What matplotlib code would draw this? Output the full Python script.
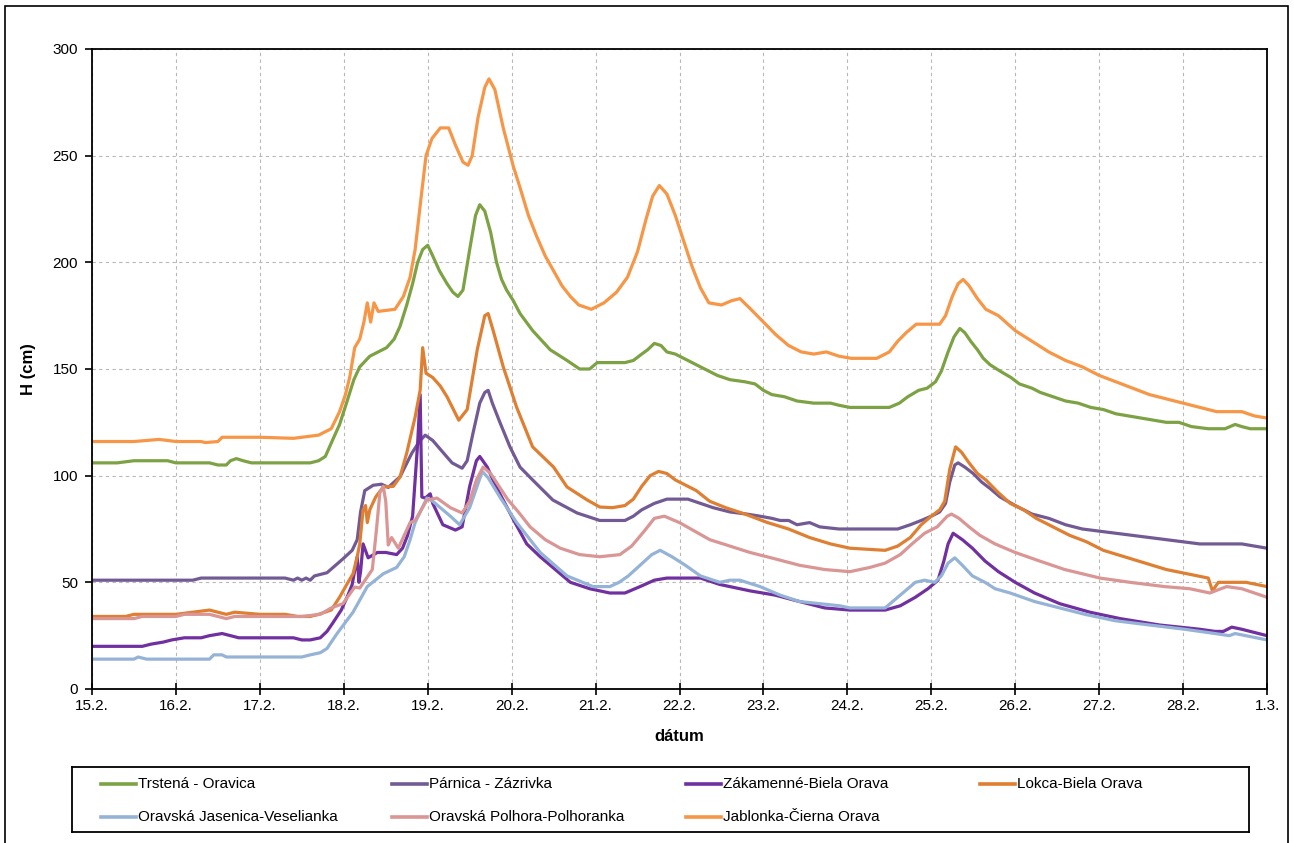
import matplotlib
matplotlib.use('Agg')
import matplotlib.pyplot as plt
from matplotlib.patches import Rectangle

plt.rcParams.update({'font.family': ['Liberation Sans', 'DejaVu Sans'], 'font.size': 11})

# days since 15.2.
day_labels = ['15.2.', '16.2.', '17.2.', '18.2.', '19.2.', '20.2.', '21.2.', '22.2.',
              '23.2.', '24.2.', '25.2.', '26.2.', '27.2.', '28.2.', '1.3.']

t_trstena = [0, 0.3, 0.5, 0.9, 1.0, 1.4, 1.5, 1.6, 1.65, 1.72, 1.8, 1.9, 2.6, 2.7, 2.78, 2.87, 2.95,
             3.04, 3.12, 3.19, 3.31, 3.51, 3.6, 3.67, 3.75, 3.82, 3.88, 3.94, 4.0, 4.06, 4.14, 4.23,
             4.3, 4.36, 4.42, 4.5, 4.57, 4.62, 4.68, 4.75, 4.82, 4.88, 4.94, 5.02, 5.1, 5.25, 5.46,
             5.66, 5.81, 5.93, 6.02, 6.1, 6.35, 6.45, 6.55, 6.62, 6.7, 6.78, 6.85, 6.95, 7.05, 7.15,
             7.3, 7.45, 7.6, 7.78, 7.9, 8.0, 8.1, 8.25, 8.4, 8.6, 8.8, 8.9, 9.03, 9.5, 9.62, 9.72,
             9.85, 9.95, 10.05, 10.12, 10.2, 10.27, 10.34, 10.4, 10.47, 10.55, 10.62, 10.7, 10.82,
             10.95, 11.05, 11.2, 11.3, 11.45, 11.6, 11.75, 11.9, 12.05, 12.2, 12.35, 12.5, 12.65,
             12.8, 12.95, 13.1, 13.3, 13.5, 13.62, 13.7, 13.8, 14.0]
h_trstena = [106, 106, 107, 107, 106, 106, 105, 105, 107, 108, 107, 106, 106, 107, 109, 117, 124,
             135, 145, 151, 156, 160, 164, 170, 180, 190, 200, 206, 208, 203, 196, 190,
             186, 184, 187, 206, 222, 227, 224, 214, 200, 192, 187, 182, 176, 168, 159,
             154, 150, 150, 153, 153, 153, 154, 157, 159, 162, 161, 158, 157, 155, 153,
             150, 147, 145, 144, 143, 140, 138, 137, 135, 134, 134, 133, 132, 132, 134, 137,
             140, 141, 144, 149, 158, 165, 169, 167, 163, 159, 155, 152, 149,
             146, 143, 141, 139, 137, 135, 134, 132, 131, 129, 128, 127, 126,
             125, 125, 123, 122, 122, 124, 123, 122, 122]

t_parnica = [0, 1.2, 1.3, 2.3, 2.4, 2.45, 2.5, 2.55, 2.6, 2.65, 2.8, 2.99, 3.1, 3.16, 3.2, 3.25,
             3.35, 3.45, 3.53, 3.67, 3.81, 3.9, 3.97, 4.06, 4.18, 4.29, 4.41, 4.47, 4.54, 4.62,
             4.68, 4.72, 4.77, 4.86, 4.98, 5.1, 5.25, 5.49, 5.78, 6.05, 6.35, 6.45, 6.55, 6.7,
             6.85, 7.1, 7.25, 7.4, 7.6, 7.8, 7.96, 8.1, 8.2, 8.3, 8.4, 8.55, 8.67, 8.9, 9.6, 9.75,
             9.88, 10.0, 10.1, 10.17, 10.22, 10.28, 10.32, 10.4, 10.5, 10.6, 10.7, 10.82, 11.0,
             11.2, 11.4, 11.6, 11.8, 12.0, 12.2, 12.4, 12.6, 12.8, 13.0, 13.2, 13.7, 14.0]
h_parnica = [51, 51, 52, 52, 51, 52, 51, 52, 51, 53, 54.5, 61, 65, 70, 83, 93,
             95.5, 96, 94.5, 99.5, 110.5, 116, 119, 116.5, 111, 106, 103.5, 107, 120, 134,
             139, 140, 134, 125, 113.5, 104, 98, 88.6, 82.5, 79, 79, 81, 84, 87,
             89, 89, 87, 85, 83, 82, 81, 80, 79, 79, 77, 78, 76, 75, 75, 77,
             79, 81, 83, 87, 97, 105, 106, 104, 101, 97, 94, 90, 86,
             82, 80, 77, 75, 74, 73, 72, 71, 70, 69, 68, 68, 66]

t_zakamenne = [0, 0.6, 0.7, 0.85, 0.95, 1.1, 1.3, 1.4, 1.55, 1.65, 1.75, 2.0, 2.4, 2.5, 2.6, 2.72,
               2.8, 2.87, 2.97, 3.05, 3.1, 3.16, 3.18, 3.2, 3.23, 3.29, 3.4, 3.5, 3.63, 3.7, 3.76,
               3.82, 3.88, 3.91, 3.93, 3.97, 4.03, 4.06, 4.18, 4.33, 4.41, 4.5, 4.58, 4.62, 4.71,
               4.8, 4.92, 5.04, 5.18, 5.34, 5.52, 5.7, 5.93, 6.17, 6.35, 6.53, 6.7, 6.85, 7.25,
               7.48, 7.84, 8.14, 8.43, 8.73, 9.03, 9.45, 9.63, 9.81, 9.96, 10.08, 10.15, 10.2,
               10.26, 10.37, 10.49, 10.64, 10.8, 11.0, 11.23, 11.53, 11.89, 12.25, 12.72, 13.2,
               13.38, 13.48, 13.58, 13.7, 14.0]
h_zakamenne = [20, 20, 21, 22, 23, 24, 24, 25, 26, 25, 24, 24, 24, 23, 23, 24,
               27, 31, 37, 44, 49, 62, 50, 55, 68, 61.5, 64, 64, 63, 66, 72,
               81, 115, 138, 90, 89.5, 91.5, 87, 77, 74.5, 76, 95, 107, 109, 104,
               96, 87, 78, 68, 62, 56, 50, 47, 45, 45, 48, 51, 52, 52,
               49, 46, 44, 41, 38, 37, 37, 39, 43, 47, 51, 60, 68,
               73, 70, 66, 60, 55, 50, 45, 40, 36, 33, 30, 28,
               27, 27, 29, 28, 25]

t_lokca = [0, 0.4, 0.5, 1.0, 1.2, 1.4, 1.5, 1.6, 1.7, 2.0, 2.3, 2.45, 2.6, 2.7, 2.85, 2.95, 3.05,
           3.11, 3.16, 3.19, 3.23, 3.26, 3.28, 3.31, 3.38, 3.47, 3.59, 3.67, 3.75, 3.85, 3.91, 3.94,
           3.98, 4.06, 4.15, 4.23, 4.37, 4.47, 4.59, 4.68, 4.72, 4.78, 4.9, 5.06, 5.25, 5.5, 5.66,
           5.9, 6.05, 6.2, 6.35, 6.45, 6.55, 6.65, 6.75, 6.85, 6.95, 7.05, 7.2, 7.36, 7.55, 7.78,
           8.05, 8.3, 8.55, 8.8, 9.03, 9.45, 9.6, 9.75, 9.88, 10.0, 10.1, 10.16, 10.22, 10.29,
           10.36, 10.45, 10.55, 10.65, 10.8, 10.94, 11.1, 11.25, 11.45, 11.65, 11.85, 12.05, 12.3,
           12.55, 12.8, 13.05, 13.3, 13.35, 13.42, 13.6, 13.75, 14.0]
h_lokca = [34, 34, 35, 35, 36, 37, 36, 35, 36, 35, 35, 34, 34, 35, 37, 43, 50,
           54, 62, 68, 84, 86, 78, 84, 90, 94.7, 95, 99.4, 110.6, 127.5, 140, 160,
           148, 146, 142, 137, 126, 131, 159, 175, 176, 168, 151, 132, 113.5, 104, 94.7,
           88.6, 85.3, 85, 86, 89, 95, 100, 102, 101, 98, 96, 93, 88, 85, 82,
           78, 75, 71, 68, 66, 65, 67, 71, 77, 81, 84, 88, 103, 113.5,
           111, 106, 101, 98, 92, 87, 84, 80, 76, 72, 69, 65, 62,
           59, 56, 54, 52, 46, 50, 50, 50, 48]

t_jasenica = [0, 0.5, 0.55, 0.65, 1.4, 1.45, 1.55, 1.6, 2.5, 2.6, 2.72, 2.8, 2.92, 3.11, 3.28,
              3.47, 3.63, 3.72, 3.79, 3.85, 3.99, 4.06, 4.27, 4.38, 4.5, 4.65, 4.72, 4.86, 5.06,
              5.34, 5.66, 5.97, 6.17, 6.28, 6.39, 6.53, 6.67, 6.77, 6.91, 7.07, 7.25, 7.48, 7.6,
              7.72, 7.96, 8.2, 8.43, 8.67, 8.91, 9.03, 9.45, 9.57, 9.69, 9.81, 9.92, 10.04, 10.12,
              10.2, 10.28, 10.37, 10.49, 10.64, 10.76, 10.94, 11.23, 11.53, 11.83, 12.19, 12.6,
              13.02, 13.38, 13.55, 13.62, 14.0]
h_jasenica = [14, 14, 15, 14, 14, 16, 16, 15, 15, 16, 17, 19, 26, 36, 48,
              54, 57, 62, 70, 78, 89.5, 88, 81, 77, 85, 102, 99, 90, 78,
              64, 53, 48, 48, 50, 53, 58, 63, 65, 62, 58, 53, 50, 51,
              51, 48, 44, 41, 40, 39, 38, 38, 42, 46, 50, 51, 50, 53,
              59, 61.5, 58, 53, 50, 47, 45, 41, 38, 35, 32, 30,
              28, 26, 25, 26, 23]

t_polhora = [0, 0.5, 0.6, 1.0, 1.1, 1.4, 1.5, 1.6, 1.7, 2.3, 2.5, 2.72, 2.85, 2.99, 3.13, 3.19,
             3.34, 3.39, 3.43, 3.47, 3.5, 3.53, 3.57, 3.65, 3.79, 3.85, 3.99, 4.11, 4.27, 4.41, 4.5,
             4.58, 4.66, 4.75, 4.85, 4.95, 5.08, 5.22, 5.4, 5.58, 5.81, 6.05, 6.29, 6.43, 6.58, 6.7,
             6.82, 7.0, 7.18, 7.36, 7.6, 7.84, 8.14, 8.43, 8.73, 9.03, 9.27, 9.45, 9.63, 9.77,
             9.92, 10.07, 10.19, 10.24, 10.33, 10.45, 10.58, 10.76, 11.0, 11.29, 11.59, 12.01,
             12.37, 12.78, 13.08, 13.32, 13.45, 13.52, 13.7, 14.0]
h_polhora = [33, 33, 34, 34, 35, 35, 34, 33, 34, 34, 34, 35, 38, 40, 47.8, 47.3,
             56, 75, 92, 95, 88, 67.5, 71, 66, 78, 79, 88.6, 89.5, 85, 82.5, 88,
             98, 104, 101, 95, 89, 83, 76, 70, 66, 63, 62, 63, 67, 74, 80,
             81, 78, 74, 70, 67, 64, 61, 58, 56, 55, 57, 59, 63, 68,
             73, 76, 81, 82, 80, 76, 72, 68, 64, 60, 56, 52,
             50, 48, 47, 45, 47, 48, 47, 43]

t_jablonka = [0, 0.5, 0.8, 1.0, 1.3, 1.35, 1.5, 1.55, 2.0, 2.4, 2.7, 2.85, 2.95, 3.02, 3.07, 3.13,
              3.19, 3.24, 3.28, 3.32, 3.36, 3.41, 3.61, 3.71, 3.79, 3.85, 3.92, 3.98, 4.05, 4.15,
              4.25, 4.33, 4.42, 4.48, 4.53, 4.6, 4.68, 4.73, 4.8, 4.9, 5.02, 5.1, 5.2, 5.3, 5.4,
              5.5, 5.6, 5.7, 5.8, 5.95, 6.1, 6.25, 6.38, 6.5, 6.6, 6.68, 6.76, 6.85, 6.95, 7.05,
              7.15, 7.25, 7.35, 7.5, 7.62, 7.72, 7.85, 8.0, 8.15, 8.3, 8.45, 8.6, 8.75, 8.9, 9.05,
              9.35, 9.5, 9.6, 9.7, 9.82, 10.1, 10.17, 10.25, 10.32, 10.38, 10.45, 10.55, 10.65,
              10.8, 11.0, 11.2, 11.4, 11.6, 11.8, 12.0, 12.2, 12.4, 12.6, 12.8, 13.0, 13.2, 13.4,
              13.7, 13.85, 14.0]
h_jablonka = [116, 116, 117, 116, 116, 115.5, 116, 118, 118, 117.5, 119, 122, 130, 138, 146, 160,
              164, 172, 181, 172, 181, 177, 178, 184, 193, 206, 230, 250, 258, 263,
              263, 255, 247, 245.5, 250, 268, 282, 286, 281, 263, 245, 235, 222, 212, 203,
              196, 189, 184, 180, 178, 181, 186, 193, 205, 220, 231, 236, 232, 222, 210,
              198, 188, 181, 180, 182, 183, 178, 172, 166, 161, 158, 157, 158, 156, 155,
              155, 158, 163, 167, 171, 171, 175, 184, 190, 192, 189, 183, 178,
              175, 168, 163, 158, 154, 151, 147, 144, 141, 138, 136, 134, 132, 130,
              130, 128, 127]

series = [
    ('Trstená - Oravica', t_trstena, h_trstena, '#7da244'),
    ('Párnica - Zázrivka', t_parnica, h_parnica, '#725a94'),
    ('Zákamenné-Biela Orava', t_zakamenne, h_zakamenne, '#7030a0'),
    ('Lokca-Biela Orava', t_lokca, h_lokca, '#df7f32'),
    ('Oravská Jasenica-Veselianka', t_jasenica, h_jasenica, '#95b3d7'),
    ('Oravská Polhora-Polhoranka', t_polhora, h_polhora, '#d99694'),
    ('Jablonka-Čierna Orava', t_jablonka, h_jablonka, '#f79646'),
]

W, H = 1294, 843
fig = plt.figure(figsize=(W / 100, H / 100), dpi=100)
ax = fig.add_axes([92 / W, 1 - 689 / H, (1267 - 92) / W, (689 - 49) / H])

for label, t, h, color in series:
    ax.plot(t, h, color=color, linewidth=2.3, solid_joinstyle='round')

ax.set_xlim(0, 14)
ax.set_ylim(0, 300)
ax.set_xticks(range(len(day_labels)))
ax.set_xticklabels(day_labels)
ax.set_yticks(range(0, 301, 50))
ax.grid(True, color='#b8b8b8', linestyle=(0, (3, 3)), linewidth=0.8)
ax.set_axisbelow(True)
ax.tick_params(axis='x', direction='inout', length=8, width=1.2, pad=3, labelsize=11)
ax.tick_params(axis='y', direction='out', length=5, width=1.2, pad=5, labelsize=11)
for s in ax.spines.values():
    s.set_linewidth(1.3)
ax.set_xlabel('dátum', fontsize=12, fontweight='bold', labelpad=12)
ax.set_ylabel('H (cm)', fontsize=12, fontweight='bold', labelpad=12)

# legend box drawn by hand so the columns are evenly spaced
lx0, ly0, lw, lh = 72, 767, 1249 - 72, 832 - 767
lax = fig.add_axes([lx0 / W, 1 - (ly0 + lh) / H, lw / W, lh / H])
lax.set_xlim(0, lw)
lax.set_ylim(lh, 0)
lax.set_xticks([])
lax.set_yticks([])
for s in lax.spines.values():
    s.set_linewidth(1.3)
col_x = [29, 320, 614, 908]
row_y = [17, 50]
slots = [(0, 0), (0, 1), (0, 2), (0, 3), (1, 0), (1, 1), (1, 2)]
for (label, t, h, color), (r, c) in zip(series, slots):
    x0 = col_x[c]
    lax.plot([x0, x0 + 35], [row_y[r], row_y[r]], color=color, linewidth=2.6)
    lax.text(x0 + 37, row_y[r], label, va='center', ha='left', fontsize=11)

# outer chart frame
fig.add_artist(Rectangle((5 / W, -0.01), (1288 - 5) / W, 1.01 - 6 / H,
                         transform=fig.transFigure, fill=False, edgecolor='black', linewidth=1.2))

fig.savefig('out.png', dpi=100)
